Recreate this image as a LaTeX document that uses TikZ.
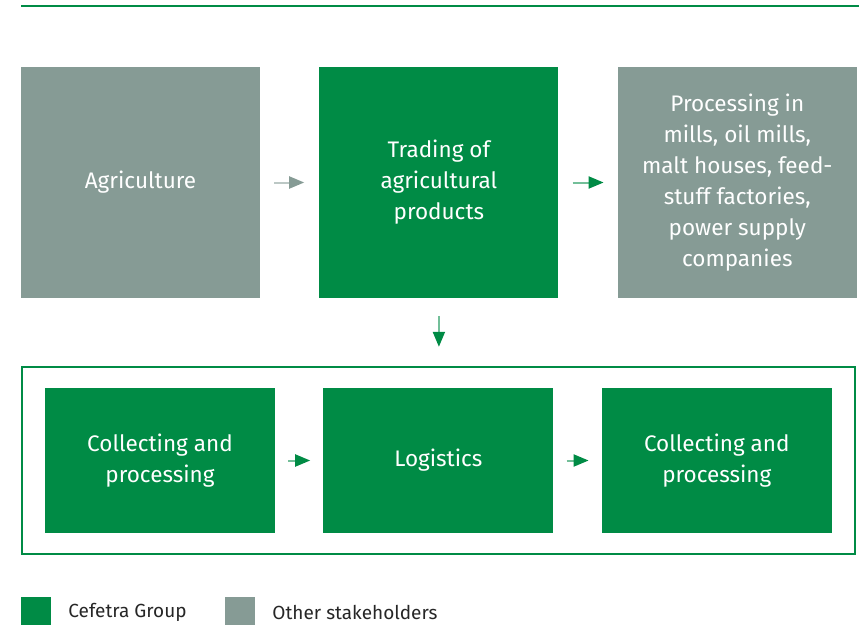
\documentclass[tikz,border=0pt]{standalone}
\usepackage{fontspec}
\setmainfont{Fira Sans}
\usetikzlibrary{arrows.meta,positioning,fit}
\definecolor{cefetra}{HTML}{008B45}
\definecolor{stake}{HTML}{869B95}

\begin{document}
\begin{tikzpicture}[
    x=1pt, y=-1pt,
    node distance=59pt,
    stage/.style={rectangle, fill=#1, text=white, minimum width=239pt,
                  minimum height=231pt, align=center, inner sep=0pt,
                  font=\fontsize{22.5}{31}\selectfont},
    substage/.style={stage=cefetra, minimum width=230pt, minimum height=145pt},
    flow/.style={line width=2pt, draw=#1!55, -{Triangle[length=15pt,width=12pt,color=#1]}},
    legendbox/.style={rectangle, fill=#1, minimum width=30pt, minimum height=30pt, inner sep=0pt},
    legendtext/.style={font=\fontsize{19}{22}\selectfont, text=black!85, anchor=west, inner sep=0pt}
]
\useasboundingbox (0,0) rectangle (859,624);

% Top rule
\draw[cefetra, line width=2.5pt] (21,6) -- (859,6);

% Upper chain
\node[stage=stake] (agri) at (140.5,182.5) {Agriculture};
\node[stage=cefetra, right=of agri] (trade) {Trading of\\agricultural\\products};
\node[stage=stake, right=of trade] (proc) {Processing in\\mills, oil mills,\\malt houses, feed-\\stuff factories,\\power supply\\companies};

% Lower chain
\node[substage] (collect) at (160,460.5) {Collecting and\\processing};
\node[substage, right=48pt of collect] (logi) {Logistics};
\node[substage, right=48pt of logi] (collect2) {Collecting and\\processing};
\node[draw=cefetra, line width=2pt, inner xsep=23pt, inner ysep=21pt,
      fit=(collect)(collect2)] (group) {};

% Arrows
\draw[flow=stake, shorten <=14pt, shorten >=15pt] (agri.east) -- (trade.west);
\draw[flow=cefetra, shorten <=14pt, shorten >=14pt] (trade.east) -- (proc.west);
\draw[flow=cefetra, shorten <=18pt, shorten >=19pt] (trade.south) -- (group.north -| trade.south);
\draw[flow=cefetra, shorten <=13pt, shorten >=13pt] (collect.east) -- (logi.west);
\draw[flow=cefetra, shorten <=13pt, shorten >=13pt] (logi.east) -- (collect2.west);

% Legend
\node[legendbox=cefetra] (legA) at (36,612) {};
\node[legendtext, right=17pt of legA] (legAtxt) {Cefetra Group};
\node[legendbox=stake] (legB) at (240,612) {};
\node[legendtext, right=17pt of legB] (legBtxt) {Other stakeholders};

\end{tikzpicture}
\end{document}
